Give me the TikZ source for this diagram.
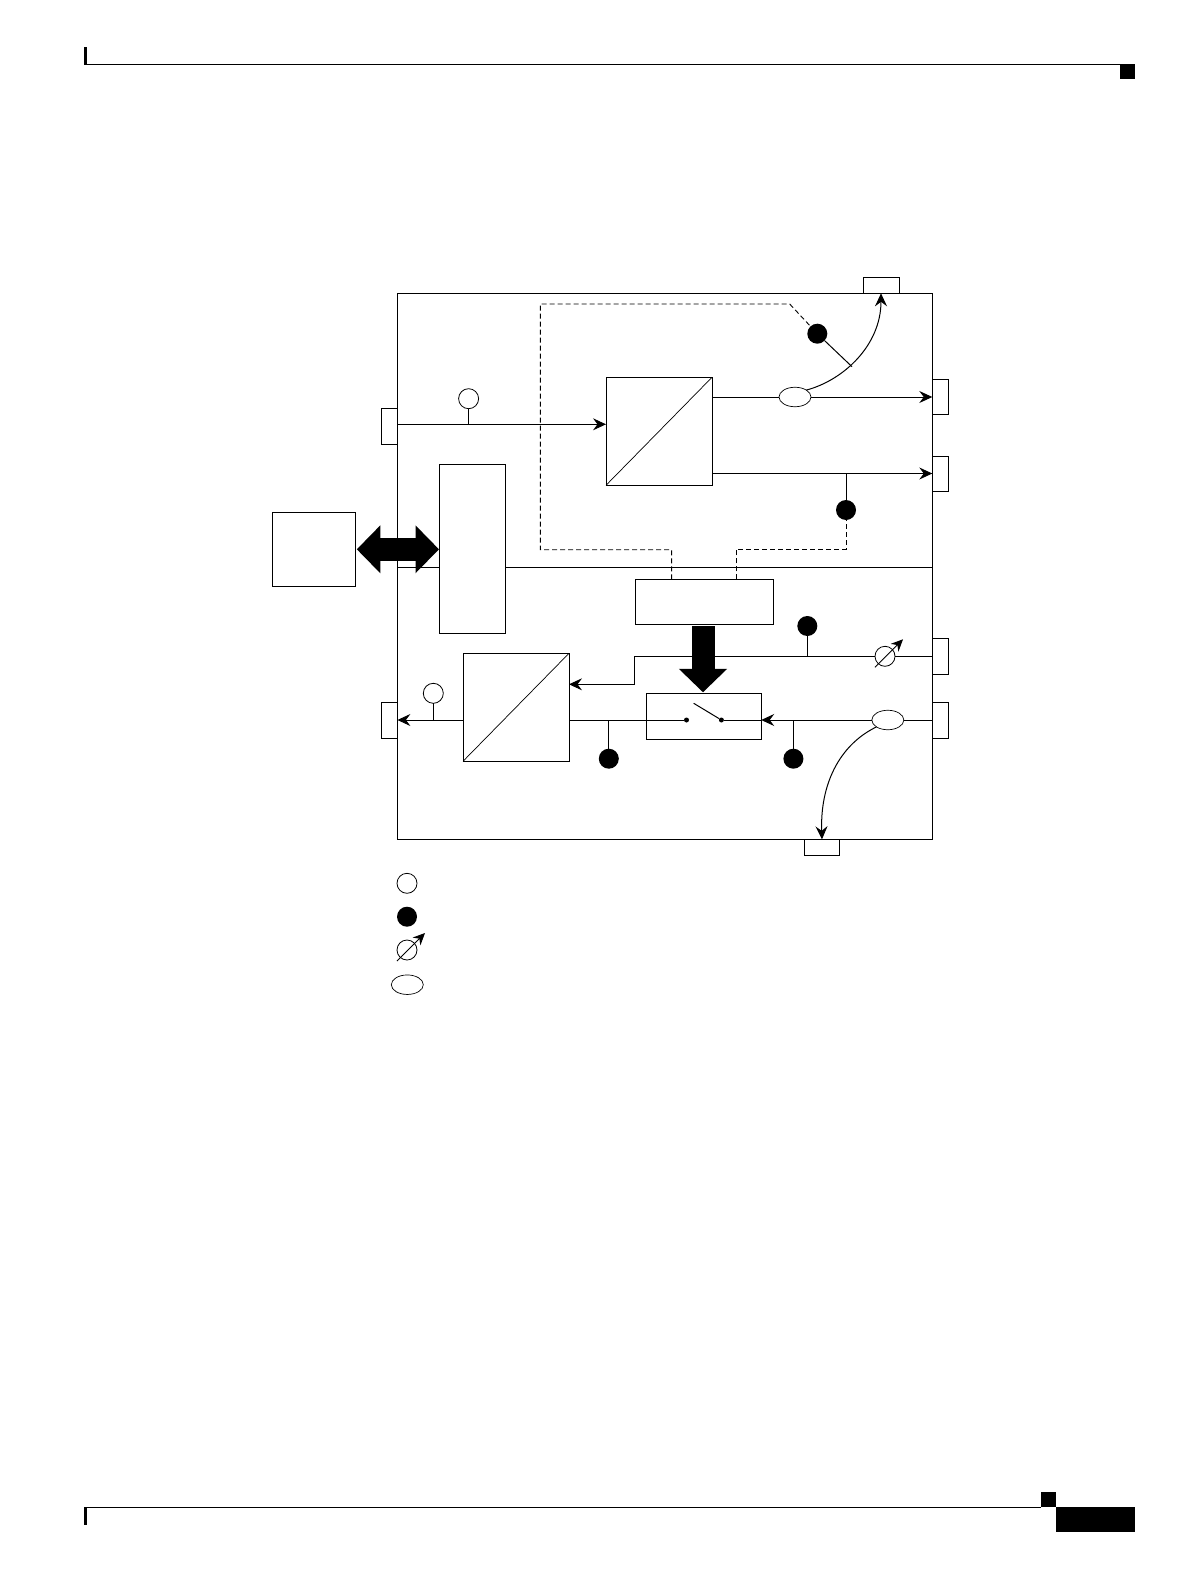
\documentclass[tikz,border=0pt]{standalone}
\usetikzlibrary{arrows.meta,shapes.geometric}
\begin{document}
\begin{tikzpicture}[x=1pt,y=-1pt,
    blk/.style={draw,line width=.9pt,fill=white,inner sep=0pt,outer sep=0pt},
    dotw/.style={draw,line width=.8pt,fill=white,circle,minimum size=20pt,inner sep=0pt,outer sep=0pt},
    dotb/.style={fill=black,circle,minimum size=20pt,inner sep=0pt,outer sep=0pt},
    tapoval/.style={draw,line width=.7pt,fill=white,ellipse,minimum width=32pt,minimum height=19.5pt,inner sep=0pt,outer sep=0pt},
    sig/.style={line width=1pt},
    sigarr/.style={line width=1pt,-{Stealth[length=13pt,width=12pt,inset=4.5pt]}},
    ctl/.style={line width=.9pt,dash pattern=on 5pt off 3pt},
    fat/.style={line width=23pt}]
  \useasboundingbox[fill=white] (0,0) rectangle (1190,1586);
  \fill (84,46.7) rectangle (87,64.7);
  \fill (84,1507) rectangle (87,1524.7);
  \fill (1120,64) rectangle (1135,79);
  \fill (1041,1492) rectangle (1056,1507);
  \fill (1056,1507) rectangle (1135,1532);
  \draw[line width=1pt] (84,64.3) -- (1120,64.3);
  \draw[line width=1pt] (84,1507) -- (1041,1507);

  \foreach \nm/\cx/\cy/\bw/\bh in {toptap/881/285.3/36/16,inport/389.4/426.3/16/36,
      outa/940.3/397/16/35.5,outb/940.3/473.5/16/35,inb/940.3/656.3/16/36,
      inc/940.3/720/16/36,outc/389.4/720/16/36,bottap/822/847.3/35/16,
      mainbox/664.9/566.3/535/546}
    \node[blk,minimum width=\bw pt,minimum height=\bh pt] (\nm) at (\cx,\cy) {};
  \draw[sig] (mainbox.west |- 0,567.3) -- (mainbox.east |- 0,567.3);

  \node[blk,minimum width=83pt,minimum height=74pt] (host) at (314,549.3) {};
  \node[blk,minimum width=66pt,minimum height=169pt] (ctrl) at (472.8,548.8) {};
  \node[blk,minimum width=138pt,minimum height=45pt] (logic) at (704.5,601.8) {};
  \node[blk,minimum width=115pt,minimum height=46pt] (switch) at (703.7,716.3) {};
  \node[blk,minimum width=106pt,minimum height=108pt] (conva) at (659,431.3) {};
  \node[blk,minimum width=106pt,minimum height=108pt] (convb) at (516,707.3) {};
  \draw[line width=.7pt] (conva.south west) -- (conva.north east);
  \draw[line width=.7pt] (convb.south west) -- (convb.north east);

  \node[dotb] (dota) at (817.3,333.7) {};
  \node[dotb] (dotc) at (846,510) {};
  \node[dotb] (dotd) at (807.3,626) {};
  \node[dotb] (dote) at (608.8,758.7) {};
  \node[dotb] (dotf) at (793.4,758.7) {};
  \node[dotw] (dotin) at (468.6,398.7) {};
  \node[dotw] (dotout) at (433.3,693.3) {};
  \node[tapoval] (ovala) at (795,397) {};
  \node[tapoval] (ovalb) at (887.8,720) {};
  \node[dotw] (phi) at (885,656.3) {};
  \node[fill=black,circle,minimum size=5pt,inner sep=0pt] (contl) at (686.5,720) {};
  \node[fill=black,circle,minimum size=5pt,inner sep=0pt] (contr) at (721.4,720) {};
  \node[dotw] (keyw) at (407,883.3) {};
  \node[dotb] (keyb) at (407,916.7) {};
  \node[dotw] (keyphi) at (407,950) {};
  \node[tapoval] (keyo) at (407.3,984.7) {};
  \foreach \nm in {phi,keyphi}
    \draw[line width=.9pt,-{Stealth[length=12pt,width=11pt,inset=4pt]}] ([shift={(-10,11)}]\nm.center) -- ([shift={(18,-17)}]\nm.center);

  \coordinate (infeed) at ([yshift=2pt]inport.east);
  \coordinate (feed) at (634.3,684.3);
  \coordinate (tapa) at (852,366.7);
  \coordinate (blade) at (693.7,703.3);
  \draw[sigarr] (infeed) -- (infeed -| conva.west);
  \draw[sig] (dotin) -- (dotin |- infeed);
  \draw[sig] (conva.east |- ovala) -- (ovala);
  \draw[sigarr] (ovala) -- (outa.west);
  \draw[sigarr] (conva.east |- outb.west) -- (outb.west);
  \draw[sig] (dotc) -- (dotc |- outb.west);
  \draw[sigarr] (ovala.north east) .. controls (844,380) and (881,345) .. (toptap.south);
  \draw[sig] (dota) -- (tapa);
  \draw[ctl] ([xshift=-32.9pt]logic.north) -- ++(0,-29.6) -| (540.3,304) -- (789.7,304) -- (dota);
  \draw[ctl] ([xshift=31.7pt]logic.north) -- ++(0,-30) -| (dotc.south);

  \draw[sigarr] (phi) -| (feed) -- (feed -| convb.east);
  \draw[sig] (inb.west) -- (phi);
  \draw[sig] (dotd) -- (dotd |- inb.west);
  \draw[sig] (inc.west) -- (ovalb);
  \draw[sigarr] (ovalb) -- (ovalb -| switch.east);
  \draw[sig] (switch.east |- contr) -- (contr);
  \draw[sig] (convb.east |- contl) -- (contl);
  \draw[sig] (contr) -- (blade);
  \draw[sig] (dote) -- (dote |- contl);
  \draw[sig] (dotf) -- (dotf |- contr);
  \draw[sigarr] (convb.west |- outc.east) -- (outc.east);
  \draw[sig] (dotout) -- (dotout |- outc.east);
  \draw[sigarr] (ovalb.south west) .. controls (839,745) and (820,785) .. (bottap.north);

  \draw[fat,{Triangle[length=23.5pt,width=46.5pt]}-{Triangle[length=23.5pt,width=46.5pt]},shorten <=1.3pt,shorten >=.8pt] (host.east) -- (host.east -| ctrl.west);
  \draw[fat,-{Triangle[length=23.5pt,width=47pt]},shorten <=1.7pt,shorten >=1pt] ([xshift=-1.5pt]logic.south) -- ([xshift=-.7pt]switch.north);
\end{tikzpicture}
\end{document}
